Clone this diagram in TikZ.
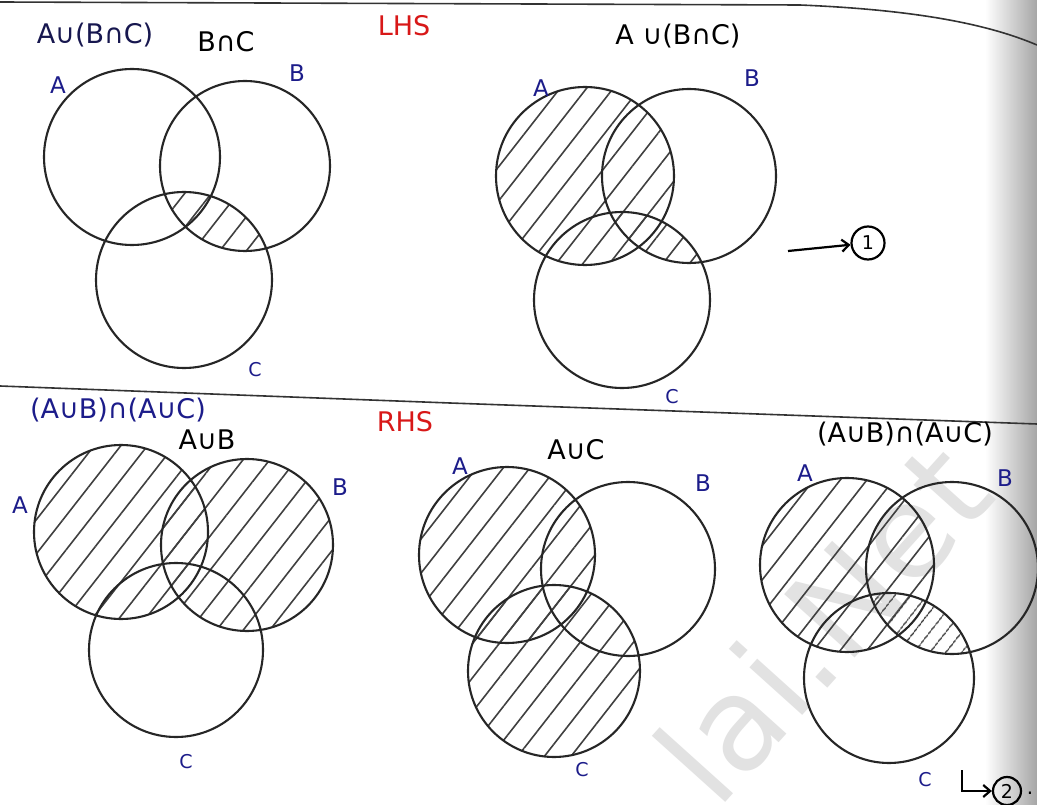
\documentclass[tikz,border=0pt]{standalone}
\usepackage{fontspec}
\setmainfont{DejaVu Sans}
\usetikzlibrary{patterns.meta,arrows.meta}
\definecolor{ink}{HTML}{1C1C8A}
\definecolor{inkdark}{HTML}{17174F}
\definecolor{redink}{HTML}{D81818}
\definecolor{wmark}{HTML}{E2E2E2}
\begin{document}
\begin{tikzpicture}[x=1pt,y=-1pt,
  venn/.style={line width=2.1pt,draw=black!85},
  hatch/.style={pattern={Lines[angle=52,distance=21pt,line width=1.6pt]},pattern color=black!75},
  hatchfine/.style={pattern={Lines[angle=52,distance=13pt,line width=1.4pt]},pattern color=black!75},
  setlbl/.style={text=ink,font=\fontsize{23}{23}\selectfont},
  clbl/.style={text=ink,font=\fontsize{19}{19}\selectfont},
  ttl/.style={font=\fontsize{27}{27}\selectfont},
  sidelbl/.style={text=redink,font=\fontsize{27}{27}\selectfont},
  pageline/.style={line width=1.6pt,draw=black!80},
  numcirc/.style={circle,draw,line width=2.2pt,inner sep=0pt,minimum size=33pt,font=\fontsize{19}{19}\selectfont},
  pointer/.style={line width=2.2pt,-{Straight Barb[length=7pt,width=12pt]}}]
\useasboundingbox (0,0) rectangle (1037,805);
\fill[white] (0,0) rectangle (1037,805);
\shade[left color=white,right color=black!35] (985,0) rectangle (1037,805);
% watermark
\node[text=wmark,font=\fontsize{130}{130}\selectfont,rotate=48] (wm) at (822,622) {lai.Net};
% page edges
\draw[pageline] (0,2) -- (800,5) .. controls (920,10) and (990,25) .. (1037,45);
\draw[pageline] (0,386) -- (450,403) -- (1037,424);

% ---------- Diagram 1 : B n C ----------
\coordinate (A1) at (132,157);
\coordinate (B1) at (245,166);
\coordinate (C1) at (184,280);
\begin{scope}
  \clip (B1) circle[radius=85pt];
  \fill[hatch] (C1) circle[radius=88pt];
\end{scope}
\draw[venn] (A1) circle[radius=88pt] (B1) circle[radius=85pt] (C1) circle[radius=88pt];
\node[setlbl] (a1) at (58,85) {A};
\node[setlbl] (b1) at (297,73) {B};
\node[clbl] (c1) at (255,370) {C};
\node[ttl,text=inkdark] (t1) at (95,35) {A∪(B∩C)};
\node[ttl] (t1b) at (226,42) {B∩C};
\node[sidelbl] (lhs) at (404,26) {LHS};

% ---------- Diagram 2 : A u (B n C) ----------
\coordinate (A2) at (585,176);
\coordinate (B2) at (689,176);
\coordinate (C2) at (622,300);
\fill[hatch] (A2) circle[radius=89pt];
\begin{scope}
  \clip (B2) circle[radius=87pt];
  \fill[hatch] (C2) circle[radius=88pt];
\end{scope}
\draw[venn] (A2) circle[radius=89pt] (B2) circle[radius=87pt] (C2) circle[radius=88pt];
\node[setlbl] (a2) at (541,88) {A};
\node[setlbl] (b2) at (752,78) {B};
\node[clbl] (c2) at (672,397) {C};
\node[ttl] (t2) at (678,36) {A ∪(B∩C)};
\node[numcirc] (n1) at (868,243) {1};
\coordinate (p1) at (788,251);
\draw[pointer] (p1) -- (n1);

% ---------- Diagram 3 : A u B ----------
\coordinate (A3) at (121,532);
\coordinate (B3) at (247,545);
\coordinate (C3) at (176,650);
\fill[hatch] (A3) circle[radius=87pt];
\fill[hatch] (B3) circle[radius=86pt];
\draw[venn] (A3) circle[radius=87pt] (B3) circle[radius=86pt] (C3) circle[radius=87pt];
\node[setlbl] (a3) at (20,505) {A};
\node[setlbl] (b3) at (340,487) {B};
\node[clbl] (c3) at (186,762) {C};
\node[ttl,text=ink] (t3) at (118,410) {(A∪B)∩(A∪C)};
\node[ttl] (t3b) at (207,440) {A∪B};
\node[sidelbl] (rhs) at (405,422) {RHS};

% ---------- Diagram 4 : A u C ----------
\coordinate (A4) at (507,555);
\coordinate (B4) at (628,569);
\coordinate (C4) at (554,671);
\fill[hatch] (A4) circle[radius=88pt];
\fill[hatch] (C4) circle[radius=86pt];
\draw[venn] (A4) circle[radius=88pt] (B4) circle[radius=87pt] (C4) circle[radius=86pt];
\node[setlbl] (a4) at (460,466) {A};
\node[setlbl] (b4) at (703,483) {B};
\node[clbl] (c4) at (582,770) {C};
\node[ttl] (t4) at (576,450) {A∪C};

% ---------- Diagram 5 : (A u B) n (A u C) ----------
\coordinate (A5) at (847,565);
\coordinate (B5) at (952,568);
\coordinate (C5) at (889,678);
\fill[hatch] (A5) circle[radius=87pt];
\begin{scope}
  \clip (B5) circle[radius=86pt];
  \fill[hatchfine] (C5) circle[radius=85pt];
\end{scope}
\draw[venn] (A5) circle[radius=87pt] (B5) circle[radius=86pt] (C5) circle[radius=85pt];
\node[setlbl] (a5) at (805,473) {A};
\node[setlbl] (b5) at (1005,478) {B};
\node[clbl] (c5) at (925,780) {C};
\node[ttl] (t5) at (905,434) {(A∪B)∩(A∪C)};
\node[numcirc,minimum size=28pt] (n2) at (1007,791) {2};
\coordinate (p2) at (962,770);
\draw[pointer] (p2) |- (n2);
\node[font=\fontsize{20}{20}\selectfont] (dot2) at (1030,793) {.};
\end{tikzpicture}
\end{document}
